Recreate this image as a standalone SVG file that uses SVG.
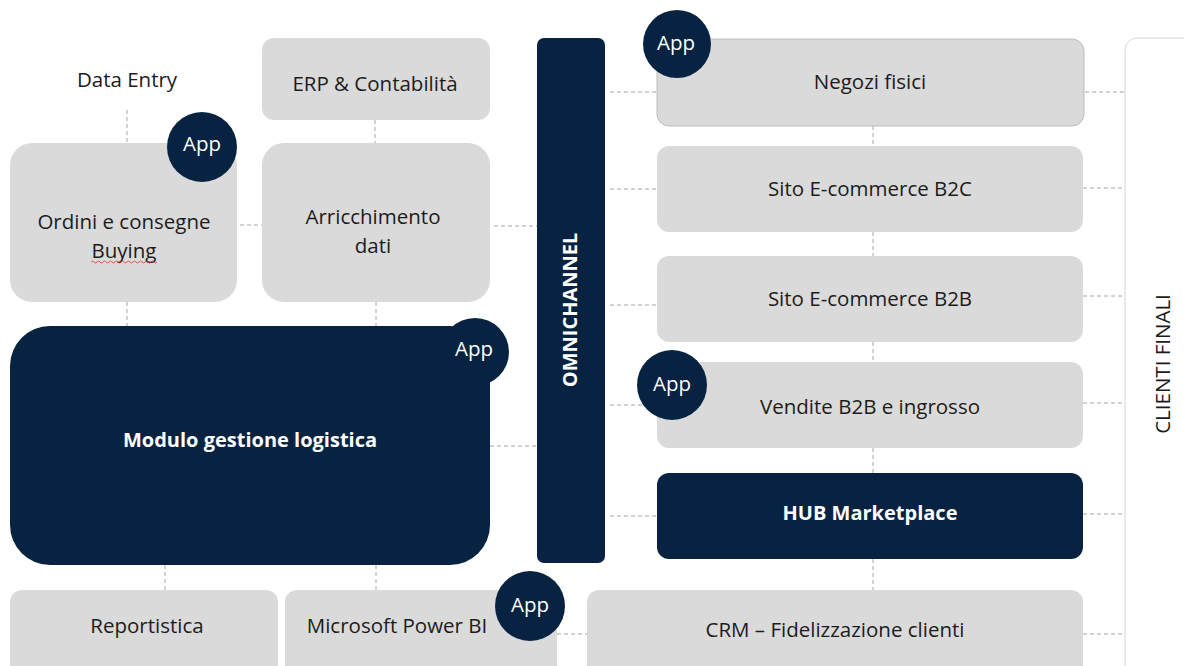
<svg xmlns="http://www.w3.org/2000/svg" width="1184" height="666" viewBox="0 0 1184 666">
<style>
.g{fill:#dadada}
.d{fill:#082341}
.t{font-family:"Open Sans","Liberation Sans",sans-serif;font-size:20.5px;fill:#1c1c1c;text-anchor:middle}
.w{font-family:"Open Sans","Liberation Sans",sans-serif;font-size:20px;fill:#ffffff;text-anchor:middle;font-weight:bold}
.a{font-family:"Open Sans","Liberation Sans",sans-serif;font-size:20.5px;fill:#ffffff;text-anchor:middle}
.c{stroke:#a6a6a6;stroke-width:1;stroke-dasharray:4 3;fill:none}
</style>
<rect width="1184" height="666" fill="#ffffff"/>
<g id="connectors">
<path class="c" d="M127 110V143M375 120V143M240 225H262M494 226H537M127 302V326M376 302V326M490 446H537M165 565V590M376 565V590M557 634H587M1083 634H1125"/>
<path class="c" d="M610 92H657M610 189H657M610 305H657M610 405H657M610 516H657"/>
<path class="c" d="M1085 92H1125M1083 188H1125M1083 296H1125M1083 403H1125M1083 514H1125"/>
<path class="c" d="M873 126V146M873 232V256M873 342V362M873 448V473M873 559V590"/>
</g>
<g id="data-entry"><text class="t" x="127" y="87">Data Entry</text></g>
<g id="erp"><rect class="g" x="262" y="38" width="228" height="82" rx="12"/><text class="t" x="375" y="91">ERP &amp; Contabilità</text></g>
<g id="ordini"><rect class="g" x="10" y="143" width="227" height="159" rx="22"/><text class="t" x="124" y="229">Ordini e consegne</text><text class="t" x="124" y="258">Buying</text><path d="M91 262q1.5-2 3 0t3 0t3 0t3 0t3 0t3 0t3 0t3 0t3 0t3 0t3 0t3 0t3 0t3 0t3 0t3 0t3 0t3 0t3 0t3 0t3 0t3 0" fill="none" stroke="#e03030" stroke-width="0.8"/></g>
<g id="app-ordini"><circle class="d" cx="202" cy="147" r="35"/><text class="a" x="202" y="151">App</text></g>
<g id="arricchimento"><rect class="g" x="262" y="143" width="228" height="159" rx="22"/><text class="t" x="373" y="224">Arricchimento</text><text class="t" x="373" y="253">dati</text></g>
<g id="modulo"><rect class="d" x="10" y="326" width="480" height="239" rx="40"/><text class="w" x="250" y="447">Modulo gestione logistica</text></g>
<g id="app-modulo"><circle class="d" cx="475" cy="352" r="34"/><text class="a" x="474" y="356">App</text></g>
<g id="omnichannel"><rect class="d" x="537" y="38" width="68" height="525" rx="7"/><text class="w" transform="translate(577 310) rotate(-90)" x="0" y="0">OMNICHANNEL</text></g>
<g id="negozi"><rect class="g" x="657" y="39" width="427" height="87" rx="12" stroke="#bdbdbd" stroke-width="1"/><text class="t" x="870" y="89">Negozi fisici</text></g>
<g id="app-negozi"><circle class="d" cx="677" cy="44" r="34"/><text class="a" x="676" y="50">App</text></g>
<g id="b2c"><rect class="g" x="657" y="146" width="426" height="86" rx="12"/><text class="t" x="870" y="196">Sito E-commerce B2C</text></g>
<g id="b2b"><rect class="g" x="657" y="256" width="426" height="86" rx="12"/><text class="t" x="870" y="306">Sito E-commerce B2B</text></g>
<g id="vendite"><rect class="g" x="657" y="362" width="426" height="86" rx="12"/><text class="t" x="870" y="414">Vendite B2B e ingrosso</text></g>
<g id="app-vendite"><circle class="d" cx="672" cy="385" r="35"/><text class="a" x="672" y="391">App</text></g>
<g id="hub"><rect class="d" x="657" y="473" width="426" height="86" rx="12"/><text class="w" x="870" y="520">HUB Marketplace</text></g>
<g id="reportistica"><rect class="g" x="10" y="590" width="268" height="90" rx="12"/><text class="t" x="147" y="633">Reportistica</text></g>
<g id="powerbi"><rect class="g" x="285" y="590" width="272" height="90" rx="12"/><text class="t" x="397" y="633">Microsoft Power BI</text></g>
<g id="app-powerbi"><circle class="d" cx="530" cy="606" r="35"/><text class="a" x="530" y="612">App</text></g>
<g id="crm"><rect class="g" x="587" y="590" width="496" height="90" rx="12"/><text class="t" x="835" y="637">CRM – Fidelizzazione clienti</text></g>
<g id="clienti"><rect x="1125" y="38" width="80" height="640" rx="12" fill="#ffffff" stroke="#d4d4d4" stroke-width="1"/><text class="t" transform="translate(1170 364) rotate(-90)" x="0" y="0">CLIENTI FINALI</text></g>
</svg>
